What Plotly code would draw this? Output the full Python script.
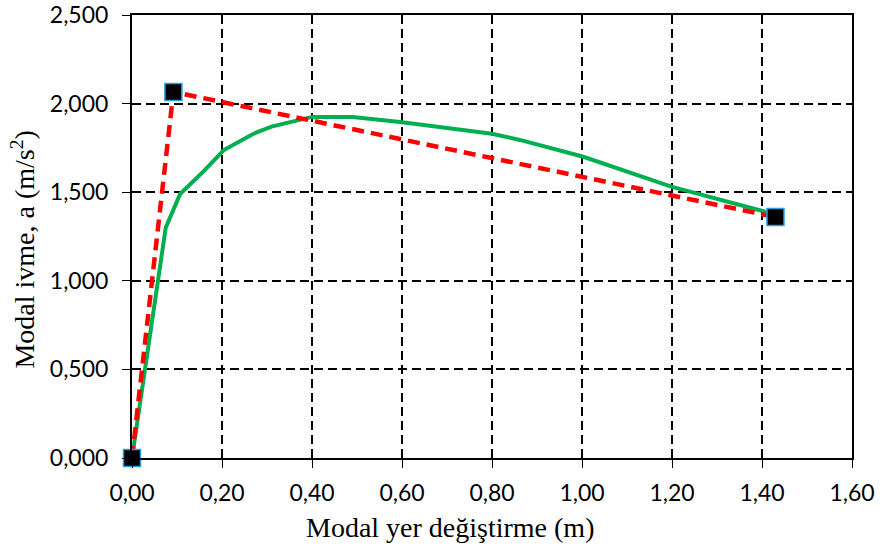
import plotly.graph_objects as go

# Capacity curve (green)
cap_x = [0.0, 0.075, 0.107, 0.16, 0.204, 0.27, 0.31, 0.40, 0.49, 0.596, 0.80, 0.862, 1.003, 1.20, 1.407, 1.43]
cap_y = [0.0, 1.30, 1.49, 1.62, 1.738, 1.83, 1.87, 1.925, 1.925, 1.896, 1.83, 1.795, 1.70, 1.53, 1.39, 1.36]

# Bilinear idealisation (red dashed)
bil_x = [0.0, 0.092, 1.43]
bil_y = [0.0, 2.066, 1.36]

x_ticks = [0.0, 0.2, 0.4, 0.6, 0.8, 1.0, 1.2, 1.4, 1.6]
x_labels = ["0,00", "0,20", "0,40", "0,60", "0,80", "1,00", "1,20", "1,40", "1,60"]
y_ticks = [0.0, 0.5, 1.0, 1.5, 2.0, 2.5]
y_labels = ["0,000", "0,500", "1,000", "1,500", "2,000", "2,500"]

x_title = "Modal yer değiştirme (m)"
y_title = "Modal ivme, a (m/s<sup>2</sup>)"

fig = go.Figure()
fig.add_trace(go.Scatter(x=cap_x, y=cap_y, mode="lines", cliponaxis=False,
                         line=dict(color="#00b050", width=4), showlegend=False))
fig.add_trace(go.Scatter(x=bil_x, y=bil_y, mode="lines+markers", cliponaxis=False,
                         line=dict(color="#ff0000", width=4.5, dash="12px,7px"),
                         marker=dict(symbol="square", size=17, color="black",
                                     line=dict(color="#2a9fe0", width=1.5)),
                         showlegend=False))

axis_common = dict(showline=True, linecolor="black", linewidth=2, mirror=True,
                   showgrid=True, gridcolor="black", gridwidth=1.5, griddash="9px,5px",
                   ticks="outside", ticklen=8, tickcolor="black", tickwidth=1, zeroline=False,
                   automargin=False,
                   tickfont=dict(family="Lato, Open Sans, sans-serif", size=23, color="black"))

title_font = dict(family="Liberation Serif, Times New Roman, serif", size=28, color="black")

fig.update_xaxes(range=[0, 1.6], tickvals=x_ticks, ticktext=x_labels,
                 ticklabelstandoff=5, **axis_common)
fig.update_yaxes(range=[0, 2.5], tickvals=y_ticks, ticktext=y_labels,
                 ticklabelstandoff=9, **axis_common)

fig.add_annotation(text=x_title, xref="paper", yref="paper", x=0.4417, y=-0.158,
                   xanchor="center", yanchor="middle", showarrow=False, font=title_font)
fig.add_annotation(text=y_title, xref="paper", yref="paper", x=-0.152, y=0.4695,
                   xanchor="center", yanchor="middle", showarrow=False, textangle=-90,
                   font=title_font)

fig.update_layout(width=882, height=552, margin=dict(l=132, r=30, t=15, b=94),
                  plot_bgcolor="white", paper_bgcolor="white")

fig.write_html("out.html")
